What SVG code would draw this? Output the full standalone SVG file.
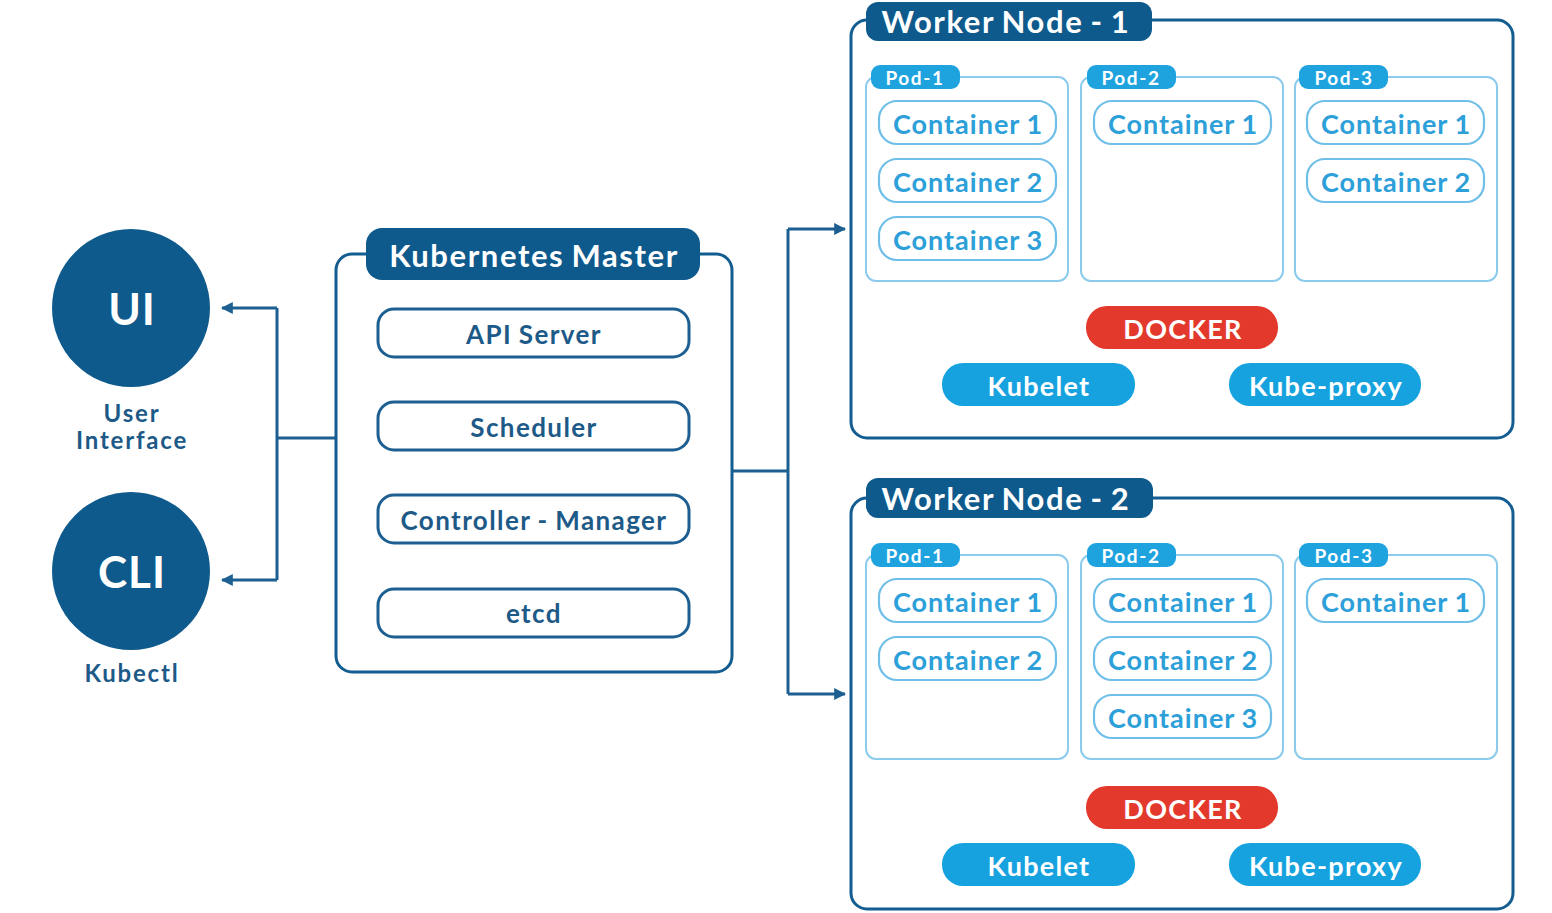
<svg xmlns="http://www.w3.org/2000/svg" width="1552" height="913" viewBox="0 0 1552 913">
<defs>
<style>
text{font-family:Lato,"Open Sans","Liberation Sans",sans-serif;text-anchor:middle;dominant-baseline:central}
.hdr{fill:#0e5a8c}
.hdrt{fill:#fff;font-size:31px;font-weight:bold;letter-spacing:1.6px;word-spacing:-2px}
.box{fill:#fff;stroke:#135d91;stroke-width:3}
.item{fill:#fff;stroke:#1d5f91;stroke-width:3}
.itemt{fill:#1d5a88;font-size:26px;font-weight:bold;letter-spacing:1.4px;word-spacing:-1px}
.pod{fill:#fff;stroke:#8ccbec;stroke-width:2}
.podtab{fill:#1ea3df}
.podt{fill:#fff;font-size:19px;font-weight:bold;letter-spacing:1.6px}
.ctr{fill:#fff;stroke:#6fbfe8;stroke-width:2.2}
.ctrt{fill:#2d9fd9;font-size:27px;font-weight:bold;letter-spacing:1px;word-spacing:-1px}
.dock{fill:#e2392c}
.blue{fill:#16a2de}
.pillt{fill:#fff;font-size:27px;font-weight:bold;letter-spacing:1.3px}
.circ{fill:#0e5a8c}
.circt{fill:#fff;font-size:44px;font-weight:bold;letter-spacing:1px}
.lbl{fill:#1d5a88;font-size:24px;font-weight:bold;letter-spacing:1.8px}
.conn{fill:none;stroke:#1d5f91;stroke-width:3}
</style>
<marker id="ah" viewBox="0 0 10 10" refX="9" refY="5" markerWidth="4" markerHeight="4" orient="auto">
<path d="M0,0 L10,5 L0,10 z" fill="#1d5f91"/>
</marker>
</defs>
<rect width="1552" height="913" fill="#fff"/>

<g id="connectors">
<path class="conn" d="M277,308 L277,580"/>
<path class="conn" d="M277,308 L222,308" marker-end="url(#ah)"/>
<path class="conn" d="M277,580 L222,580" marker-end="url(#ah)"/>
<path class="conn" d="M277,438 L336,438"/>
<path class="conn" d="M732,471 L788,471"/>
<path class="conn" d="M788,229 L788,694"/>
<path class="conn" d="M788,229 L845,229" marker-end="url(#ah)"/>
<path class="conn" d="M788,694 L845,694" marker-end="url(#ah)"/>
</g>

<g id="ui">
<circle class="circ" cx="131" cy="308" r="79"/>
<text class="circt" x="132" y="308">UI</text>
<text class="lbl" x="132" y="412">User</text>
<text class="lbl" x="132" y="439">Interface</text>
</g>

<g id="cli">
<circle class="circ" cx="131" cy="571" r="79"/>
<text class="circt" x="132" y="571">CLI</text>
<text class="lbl" x="132" y="672">Kubectl</text>
</g>

<g id="master">
<rect class="box" x="336" y="254" width="396" height="418" rx="16"/>
<rect class="hdr" x="366" y="228" width="334" height="52" rx="16"/>
<text class="hdrt" x="534" y="255">Kubernetes Master</text>
<g id="api-server"><rect class="item" x="378" y="309" width="311" height="48" rx="16"/><text class="itemt" x="534" y="334">API Server</text></g>
<g id="scheduler"><rect class="item" x="378" y="402" width="311" height="48" rx="16"/><text class="itemt" x="534" y="427">Scheduler</text></g>
<g id="controller-manager"><rect class="item" x="378" y="495" width="311" height="48" rx="16"/><text class="itemt" x="534" y="520">Controller - Manager</text></g>
<g id="etcd"><rect class="item" x="378" y="589" width="311" height="48" rx="16"/><text class="itemt" x="534" y="613">etcd</text></g>
</g>

<g id="worker1">
<rect class="box" x="851" y="20" width="662" height="418" rx="16"/>
<rect class="hdr" x="866" y="2" width="286" height="39" rx="12"/>
<text class="hdrt" x="1006" y="21">Worker Node - 1</text>
<g id="w1-pod1">
<rect class="pod" x="866" y="77" width="202" height="204" rx="10"/>
<rect class="podtab" x="871" y="65" width="89" height="24" rx="9"/>
<text class="podt" x="915" y="77">Pod-1</text>
<rect class="ctr" x="879" y="101" width="177" height="43" rx="18"/><text class="ctrt" x="968" y="123">Container 1</text>
<rect class="ctr" x="879" y="159" width="177" height="43" rx="18"/><text class="ctrt" x="968" y="181">Container 2</text>
<rect class="ctr" x="879" y="217" width="177" height="43" rx="18"/><text class="ctrt" x="968" y="239">Container 3</text>
</g>
<g id="w1-pod2">
<rect class="pod" x="1081" y="77" width="202" height="204" rx="10"/>
<rect class="podtab" x="1087" y="65" width="89" height="24" rx="9"/>
<text class="podt" x="1131" y="77">Pod-2</text>
<rect class="ctr" x="1094" y="101" width="177" height="43" rx="18"/><text class="ctrt" x="1183" y="123">Container 1</text>
</g>
<g id="w1-pod3">
<rect class="pod" x="1295" y="77" width="202" height="204" rx="10"/>
<rect class="podtab" x="1299" y="65" width="89" height="24" rx="9"/>
<text class="podt" x="1344" y="77">Pod-3</text>
<rect class="ctr" x="1307" y="101" width="177" height="43" rx="18"/><text class="ctrt" x="1396" y="123">Container 1</text>
<rect class="ctr" x="1307" y="159" width="177" height="43" rx="18"/><text class="ctrt" x="1396" y="181">Container 2</text>
</g>
<g id="w1-docker"><rect class="dock" x="1086" y="306" width="192" height="43" rx="21"/><text class="pillt" x="1183" y="328">DOCKER</text></g>
<g id="w1-kubelet"><rect class="blue" x="942" y="363" width="193" height="43" rx="21"/><text class="pillt" x="1039" y="385">Kubelet</text></g>
<g id="w1-kubeproxy"><rect class="blue" x="1229" y="363" width="192" height="43" rx="21"/><text class="pillt" x="1326" y="385">Kube-proxy</text></g>
</g>

<g id="worker2">
<rect class="box" x="851" y="498" width="662" height="411" rx="16"/>
<rect class="hdr" x="866" y="478" width="287" height="40" rx="12"/>
<text class="hdrt" x="1006" y="498">Worker Node - 2</text>
<g id="w2-pod1">
<rect class="pod" x="866" y="555" width="202" height="204" rx="10"/>
<rect class="podtab" x="871" y="543" width="89" height="24" rx="9"/>
<text class="podt" x="915" y="555">Pod-1</text>
<rect class="ctr" x="879" y="579" width="177" height="43" rx="18"/><text class="ctrt" x="968" y="601">Container 1</text>
<rect class="ctr" x="879" y="637" width="177" height="43" rx="18"/><text class="ctrt" x="968" y="659">Container 2</text>
</g>
<g id="w2-pod2">
<rect class="pod" x="1081" y="555" width="202" height="204" rx="10"/>
<rect class="podtab" x="1087" y="543" width="89" height="24" rx="9"/>
<text class="podt" x="1131" y="555">Pod-2</text>
<rect class="ctr" x="1094" y="579" width="177" height="43" rx="18"/><text class="ctrt" x="1183" y="601">Container 1</text>
<rect class="ctr" x="1094" y="637" width="177" height="43" rx="18"/><text class="ctrt" x="1183" y="659">Container 2</text>
<rect class="ctr" x="1094" y="695" width="177" height="43" rx="18"/><text class="ctrt" x="1183" y="717">Container 3</text>
</g>
<g id="w2-pod3">
<rect class="pod" x="1295" y="555" width="202" height="204" rx="10"/>
<rect class="podtab" x="1299" y="543" width="89" height="24" rx="9"/>
<text class="podt" x="1344" y="555">Pod-3</text>
<rect class="ctr" x="1307" y="579" width="177" height="43" rx="18"/><text class="ctrt" x="1396" y="601">Container 1</text>
</g>
<g id="w2-docker"><rect class="dock" x="1086" y="786" width="192" height="43" rx="21"/><text class="pillt" x="1183" y="808">DOCKER</text></g>
<g id="w2-kubelet"><rect class="blue" x="942" y="843" width="193" height="43" rx="21"/><text class="pillt" x="1039" y="865">Kubelet</text></g>
<g id="w2-kubeproxy"><rect class="blue" x="1229" y="843" width="192" height="43" rx="21"/><text class="pillt" x="1326" y="865">Kube-proxy</text></g>
</g>
</svg>
